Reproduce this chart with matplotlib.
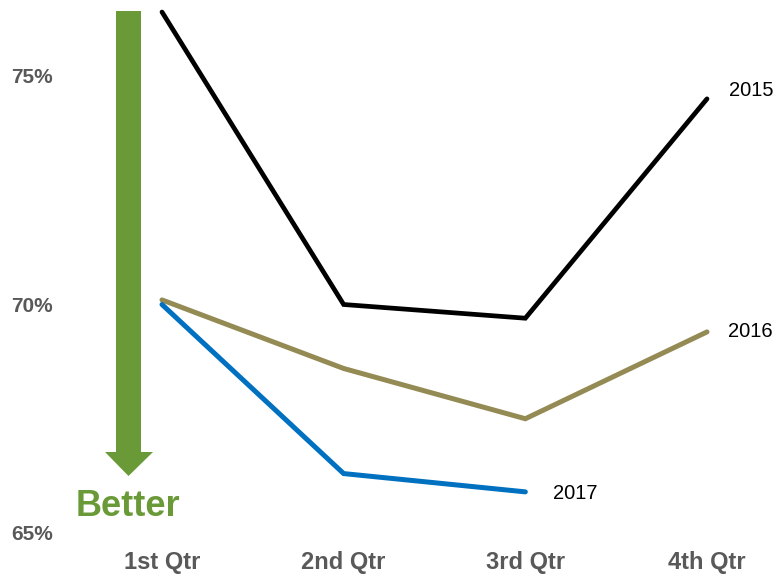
import matplotlib
matplotlib.use("Agg")
import matplotlib.pyplot as plt
from matplotlib.patches import Polygon

plt.rcParams['font.family'] = ['Liberation Sans', 'DejaVu Sans']

quarters = ["1st Qtr", "2nd Qtr", "3rd Qtr", "4th Qtr"]
y2015 = [76.4, 70.0, 69.7, 74.5]
y2016 = [70.1, 68.6, 67.5, 69.4]
y2017 = [70.0, 66.3, 65.9]
yticks = [65, 70, 75]
ytick_labels = ["65%", "70%", "75%"]

W, H = 779, 575
fig = plt.figure(figsize=(W / 100, H / 100), dpi=100)

# plot area in pixel terms: left 71, bottom 533, right edge of figure, top edge of figure
ax_l, ax_b = 71, 533
ax = fig.add_axes([ax_l / W, (H - ax_b) / H, (W - ax_l) / W, ax_b / H])
px_per_cat = (707 - 162) / 3
ax.set_xlim((ax_l - 162) / px_per_cat, (W - 162) / px_per_cat)
px_per_pct = (533 - 76) / 10
ax.set_ylim(65, 65 + ax_b / px_per_pct)

for s in ax.spines.values():
    s.set_visible(False)

series = [
    ("2015", y2015, "#000000", 3.4, (16, 6)),
    ("2016", y2016, "#948A54", 3.6, (15, 0)),
    ("2017", y2017, "#0070C0", 3.6, (20, -1)),
]
for name, vals, color, lw, off in series:
    xs = list(range(len(vals)))
    ax.plot(xs, vals, color=color, lw=lw, solid_capstyle="round",
            solid_joinstyle="miter", clip_on=False)
    ax.annotate(name, xy=(xs[-1], vals[-1]), xytext=off,
                textcoords="offset points", ha="left", va="center",
                fontsize=14.5, color="#000000")

ax.set_xticks(range(len(quarters)))
ax.set_xticklabels(quarters, fontsize=17, fontweight="bold", color="#595959")
ax.set_yticks(yticks)
ax.set_yticklabels(ytick_labels, fontsize=15, fontweight="bold", color="#595959")
ax.tick_params(axis="both", length=0)
ax.tick_params(axis="y", pad=13)
ax.tick_params(axis="x", pad=13)

# green "Better" arrow pointing down
def fx(px):
    return px / W

def fy(py):
    return (H - py) / H

green = "#699A37"
arrow_pts = [(116, 11), (141, 11), (141, 452), (153, 452), (128.5, 476),
             (105, 452), (116, 452)]
fig.patches.append(Polygon([(fx(x), fy(y)) for x, y in arrow_pts], closed=True,
                           transform=fig.transFigure, facecolor=green,
                           edgecolor="none"))
fig.text(fx(128), fy(516), "Better", ha="center", va="baseline",
         fontsize=26, fontweight="bold", color=green)

fig.savefig("out.png", dpi=100)
